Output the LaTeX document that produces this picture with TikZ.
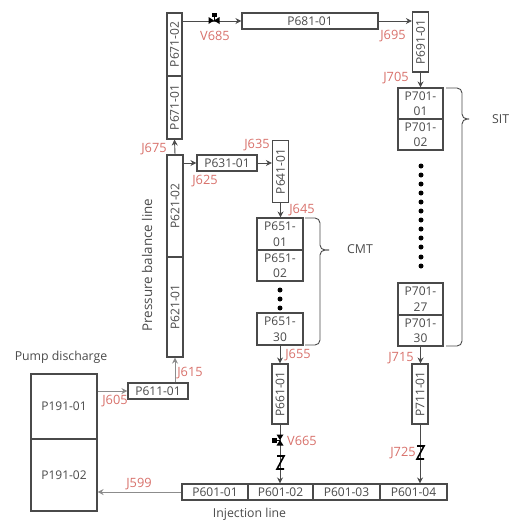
\documentclass[tikz,border=0pt]{standalone}
\usepackage{fontspec}
\setmainfont{Open Sans}
\usetikzlibrary{arrows.meta}
\definecolor{lbl}{HTML}{D8716B}
\definecolor{ink}{HTML}{4A4A4A}
\tikzset{
  pipe/.style={draw=ink,line width=1.1pt,fill=white,inner sep=0pt,font=\fontsize{12}{15.5}\selectfont,text=ink,align=center},
  redlabel/.style={text=lbl,font=\fontsize{12.8}{14}\selectfont,inner sep=0pt},
  captext/.style={text=ink,font=\fontsize{12.3}{14}\selectfont,inner sep=0pt},
  link/.style={draw=ink,line width=0.9pt,-{Stealth[length=6pt,width=6pt]}},
  pale/.style={draw=black!45,line width=1pt,-{Stealth[length=6pt,width=6pt]}},
  dotmark/.style={fill=black,circle,inner sep=0pt,minimum size=5pt},
  bracex/.style={draw=ink,line width=0.9pt,rounded corners=5pt},
  zig/.style={draw=black,line width=1.6pt,line join=miter},
}
\begin{document}
\begin{tikzpicture}[x=1pt,y=-1pt]
\useasboundingbox (0,0) rectangle (510,520);
% vertical pipes
\node[pipe,minimum width=15pt,minimum height=63pt] (p671b) at (174.5,44.5) {\rotatebox{90}{P671-02}};
\node[pipe,minimum width=15pt,minimum height=63pt] (p671a) at (174.5,107.5) {\rotatebox{90}{P671-01}};
\node[pipe,minimum width=16pt,minimum height=102pt] (p621b) at (175,206) {\rotatebox{90}{P621-02}};
\node[pipe,minimum width=16pt,minimum height=100pt] (p621a) at (175,307) {\rotatebox{90}{P621-01}};
\node[pipe,minimum width=16pt,minimum height=62pt] (p641) at (280.5,171.5) {\rotatebox{90}{P641-01}};
\node[pipe,minimum width=16pt,minimum height=60pt] (p661) at (280,394) {\rotatebox{90}{P661-01}};
\node[pipe,minimum width=16pt,minimum height=60pt] (p691) at (420.5,42) {\rotatebox{90}{P691-01}};
\node[pipe,minimum width=16pt,minimum height=60pt] (p711) at (420,394) {\rotatebox{90}{P711-01}};
% horizontal pipes
\node[pipe,minimum width=136pt,minimum height=16pt] (p681) at (310,21) {P681-01};
\node[pipe,minimum width=60pt,minimum height=16pt] (p631) at (227,163) {P631-01};
\node[pipe,minimum width=60pt,minimum height=16pt] (p611) at (158,391) {P611-01};
% stacks
\node[pipe,minimum width=46pt,minimum height=32pt] (p651a) at (280,234) {P651-\\01};
\node[pipe,minimum width=46pt,minimum height=31pt] (p651b) at (280,265.5) {P651-\\02};
\node[pipe,minimum width=46pt,minimum height=32pt] (p651c) at (280,329) {P651-\\30};
\node[pipe,minimum width=45pt,minimum height=31pt] (p701a) at (420.5,103.5) {P701-\\01};
\node[pipe,minimum width=45pt,minimum height=31pt] (p701b) at (420.5,134.5) {P701-\\02};
\node[pipe,minimum width=45pt,minimum height=32pt] (p701c) at (420.5,299) {P701-\\27};
\node[pipe,minimum width=45pt,minimum height=31pt] (p701d) at (420.5,330.5) {P701-\\30};
% pump
\node[pipe,minimum width=66pt,minimum height=65pt] (p191a) at (64,406.5) {P191-01};
\node[pipe,minimum width=66pt,minimum height=72pt] (p191b) at (64,475) {P191-02};
% injection line
\node[pipe,minimum width=66pt,minimum height=16pt] (p601a) at (215,492) {P601-01};
\node[pipe,minimum width=65pt,minimum height=16pt] (p601b) at (280.5,492) {P601-02};
\node[pipe,minimum width=67pt,minimum height=16pt] (p601c) at (346.5,492) {P601-03};
\node[pipe,minimum width=67pt,minimum height=16pt] (p601d) at (413.5,492) {P601-04};
% connectors
\draw[link] (p671b.east |- p681.west) -- (p681.west);
\draw[link] (p681.east) -- (p681.east -| p691.west);
\draw[link] (p691.south) -- (p691.south |- p701a.north);
\draw[link] (p621b.north) -- (p671a.south);
\draw[link] (p621b.east |- p631.west) -- (p631.west);
\draw[link] (p631.east) -- (p631.east -| p641.west);
\draw[link] (p641.south) -- (p641.south |- p651a.north);
\draw[link] (p651c.south) -- (p661.north);
\draw[link] (p661.south) -- (p661.south |- p601b.north);
\draw[link] (p701d.south) -- (p701d.south |- p711.north);
\draw[link] (p711.south) -- (p711.south |- p601d.north);
\draw[pale] (p611.north -| p621a.south) -- (p621a.south);
\draw[pale] (p191a.east |- p611.west) -- (p611.west);
\draw[pale] (p601a.west) -- (p601a.west -| p191b.east);
% valves
\fill[black] (208.5,17) -- (214,20.5) -- (208.5,24) -- cycle;
\fill[black] (219.5,17) -- (214,20.5) -- (219.5,24) -- cycle;
\draw[black,line width=1pt] (214,20.5) -- (214,15);
\fill[black] (211.5,13) rectangle (216.5,17);
\fill[black] (276.5,434.5) -- (280,440) -- (283.5,434.5) -- cycle;
\fill[black] (276.5,445.5) -- (280,440) -- (283.5,445.5) -- cycle;
\draw[black,line width=1pt] (280,440) -- (275,440);
\fill[black] (272,437.5) rectangle (276.5,442.5);
% breaks
\draw[zig] (277,456) -- (284,456) -- (277,469) -- (284,469);
\draw[zig] (417,446) -- (424,446) -- (417,459) -- (424,459);
% dots
\foreach \y in {166,175,184,193,202,211,220,229,238,247,257,266}
  \node[dotmark] at (421,\y) {};
\foreach \y in {290,299,308}
  \node[dotmark] at (280,\y) {};
% braces
\draw[bracex] (305,218) -- (320,218) -- (320,250) -- (329,250);
\draw[bracex] (329,250) -- (320,250) -- (320,345) -- (305,345);
\draw[bracex] (446,88) -- (462,88) -- (462,119) -- (469,119);
\draw[bracex] (469,119) -- (462,119) -- (462,346) -- (446,346);
% captions
\node[captext] (tcmt) at (360,249.5) {CMT};
\node[captext,anchor=west] (tsit) at (492,119) {SIT};
\node[captext] (tpump) at (61,357) {Pump discharge};
\node[captext] (tinj) at (249.5,514) {Injection line};
\node[captext,rotate=90,font=\fontsize{13.4}{14}\selectfont] (tpress) at (147,265) {Pressure balance line};
% labels
\node[redlabel] (l685) at (215,36) {V685};
\node[redlabel] (l695) at (393,36) {J695};
\node[redlabel] (l705) at (396,78) {J705};
\node[redlabel] (l635) at (257,145) {J635};
\node[redlabel] (l675) at (154,149) {J675};
\node[redlabel] (l625) at (205,181) {J625};
\node[redlabel] (l645) at (302,210) {J645};
\node[redlabel] (l615) at (190,373) {J615};
\node[redlabel] (l605) at (115,401) {J605};
\node[redlabel] (l599) at (139,484) {J599};
\node[redlabel] (l655) at (298,355) {J655};
\node[redlabel] (l715) at (401,358) {J715};
\node[redlabel] (l665) at (302,441) {V665};
\node[redlabel] (l725) at (403,453) {J725};
\end{tikzpicture}
\end{document}
